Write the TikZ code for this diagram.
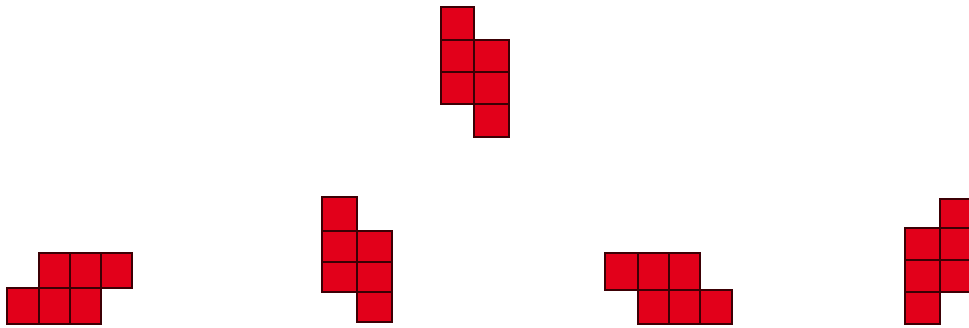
\documentclass[tikz,border=0pt]{standalone}
\definecolor{tred}{RGB}{226,0,26}
\definecolor{tedge}{RGB}{60,0,5}
\begin{document}
\begin{tikzpicture}[x=1pt,y=-1pt,
  cellbox/.style={fill=tred,draw=tedge,line width=1.4pt,line join=miter}]
\useasboundingbox (0,0) rectangle (969,327);
\clip (0,0) rectangle (969,327);
% piece 1 (top)
\foreach \y/\h in {7/40,40/72,72/104} \draw[cellbox] (441,\y) rectangle (474,\h);
\foreach \y/\h in {40/72,72/104,104/137} \draw[cellbox] (474,\y) rectangle (509,\h);
% piece 2 (bottom left)
\foreach \x/\w in {39/70,70/101,101/132} \draw[cellbox] (\x,253) rectangle (\w,288);
\foreach \x/\w in {7/39,39/70,70/101} \draw[cellbox] (\x,288) rectangle (\w,324);
% piece 3
\foreach \y/\h in {197/231,231/262,262/292} \draw[cellbox] (322,\y) rectangle (357,\h);
\foreach \y/\h in {231/262,262/292,292/322} \draw[cellbox] (357,\y) rectangle (392,\h);
% piece 4
\foreach \x/\w in {605/638,638/669,669/700} \draw[cellbox] (\x,253) rectangle (\w,290);
\foreach \x/\w in {638/669,669/700,700/732} \draw[cellbox] (\x,290) rectangle (\w,324);
% piece 5 (right, cut off)
\foreach \y/\h in {199/228,228/260,260/292} \draw[cellbox] (940,\y) rectangle (974,\h);
\foreach \y/\h in {228/260,260/292,292/324} \draw[cellbox] (905,\y) rectangle (940,\h);
\end{tikzpicture}
\end{document}
